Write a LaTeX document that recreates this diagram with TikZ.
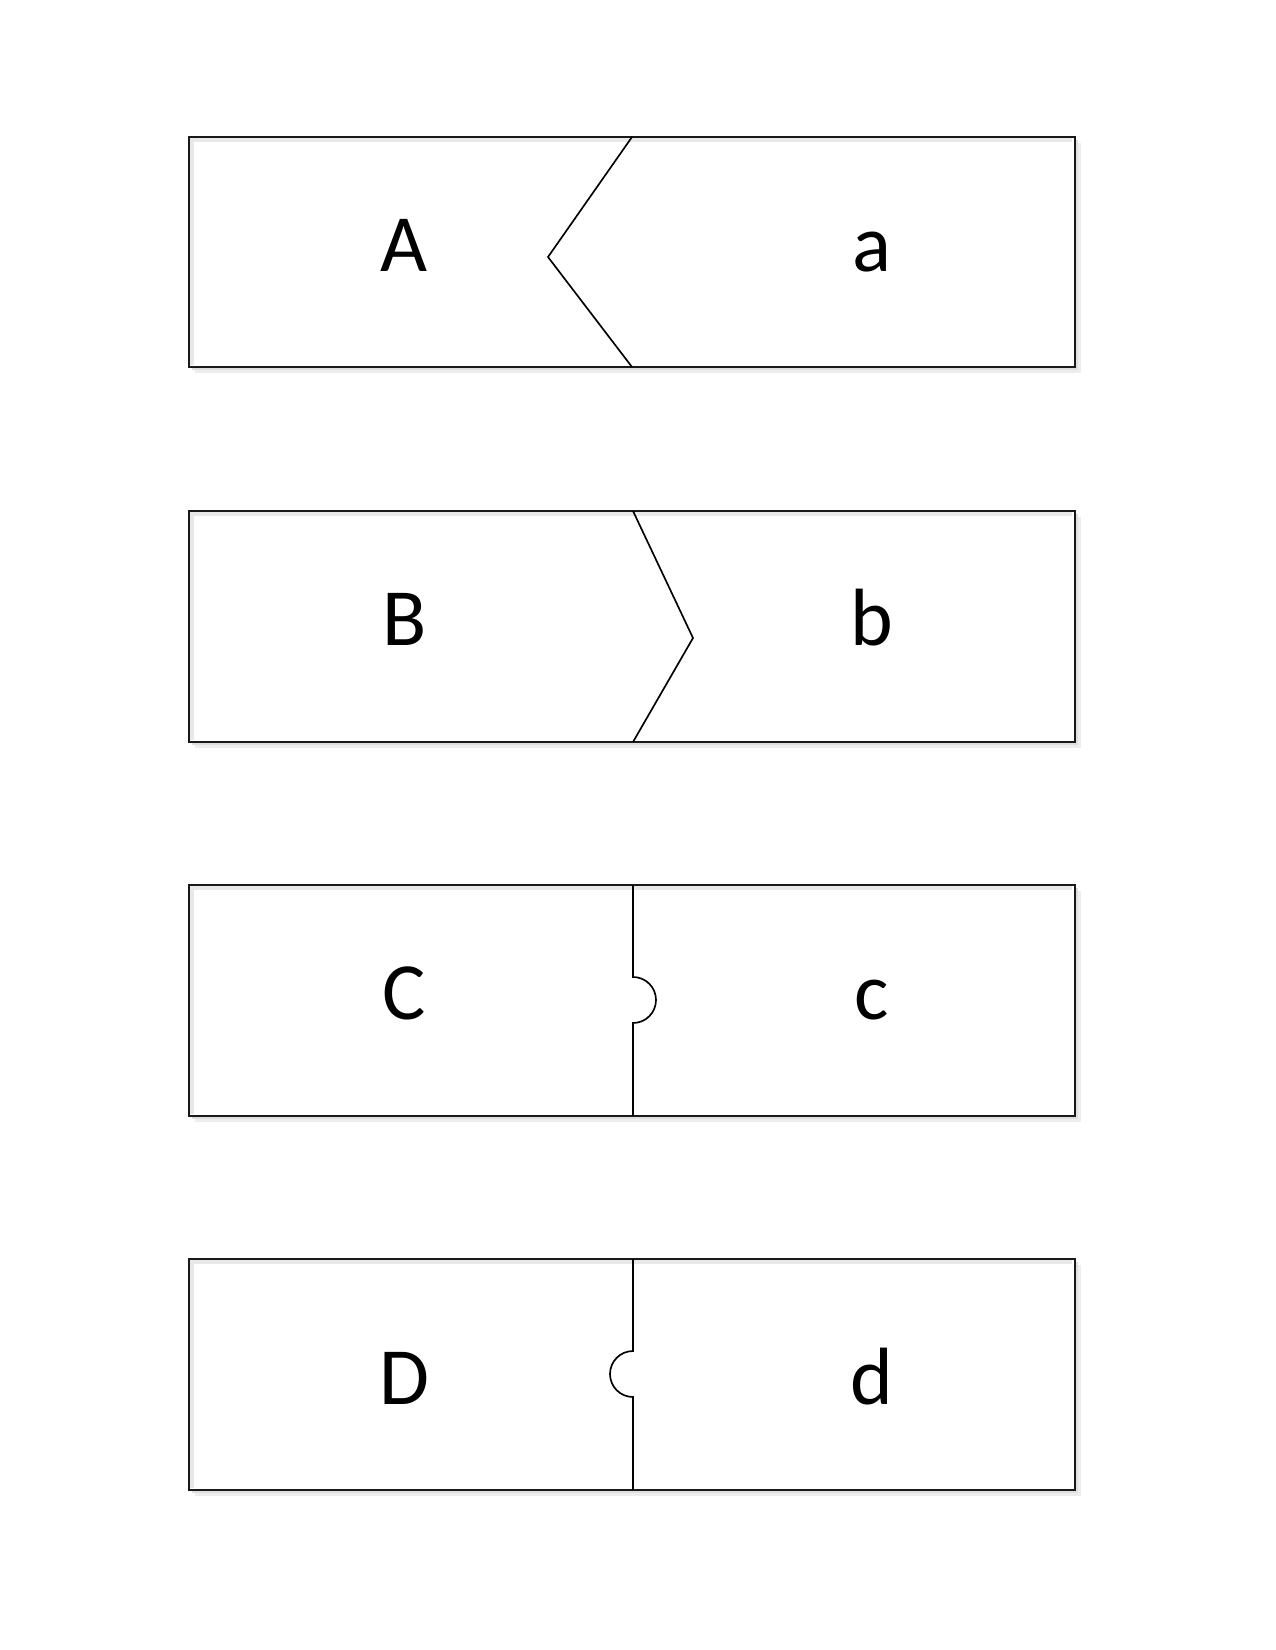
\documentclass[tikz,border=0pt]{standalone}
\usepackage{fontspec}
\setmainfont{Carlito}
\begin{document}
\begin{tikzpicture}[x=0.48pt,y=-0.48pt,
  boxline/.style={draw=black!90,line width=1pt},
  divline/.style={draw=black,line width=0.8pt,line join=miter},
  shadowA/.style={fill=black!7,draw=none},
  shadowB/.style={fill=black!13,draw=none},
  innerband/.style={draw=black!9,line width=2.2pt},
  letter/.style={font=\fontsize{39}{46}\selectfont,anchor=base,inner sep=0pt}]
\useasboundingbox (0,0) rectangle (1275,1650);
\fill[white] (0,0) rectangle (1275,1650);
% shadows and boxes
\foreach \t/\b in {137/367,511/742,885/1116,1259/1490}{
  \fill[shadowA] (195,\t+6) rectangle (1081,\b+6);
  \fill[shadowB] (192,\t+3) rectangle (1078,\b+3);
  \fill[white] (189,\t) rectangle (1075,\b);
  \draw[innerband] (192,\b-2) -- (192,\t+3) -- (1072,\t+3);
  \draw[boxline] (189,\t) rectangle (1075,\b);
}
% dividers
\draw[divline] (632,137) -- (548,257) -- (632,367);
\draw[divline] (633,511) -- (693,638) -- (633,742);
\draw[divline] (633,885) -- (633,977) arc[start angle=-90,end angle=90,radius=23] -- (633,1116);
\draw[divline] (633,1259) -- (633,1351) arc[start angle=-90,end angle=-270,radius=23] -- (633,1490);
% letters
\node[letter] (A) at (404,272) {A};
\node[letter] (a) at (872,272) {a};
\node[letter] (B) at (405,645) {B};
\node[letter] (b) at (872,645) {b};
\node[letter] (C) at (404,1019) {C};
\node[letter] (c) at (872,1019) {c};
\node[letter] (D) at (404,1404) {D};
\node[letter] (d) at (872,1404) {d};
\end{tikzpicture}
\end{document}
